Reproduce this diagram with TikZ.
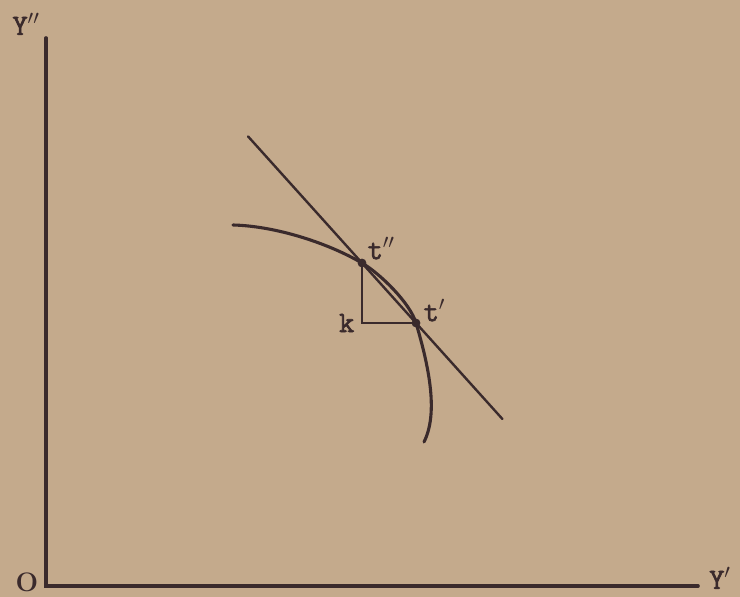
\documentclass[tikz,border=0pt]{standalone}
\usepackage{fontspec}
\setmonofont[AutoFakeBold=2.2]{Latin Modern Mono}
\usetikzlibrary{calc, positioning}
\definecolor{paperbg}{HTML}{C4AA8C}
\definecolor{ink}{HTML}{3A2A2C}

\begin{document}
\begin{tikzpicture}[
    font=\ttfamily\bfseries\fontsize{21}{24}\selectfont,
    line cap=round,
    axis/.style={draw=ink, line width=2.6pt},
    secant/.style={draw=ink, line width=1.7pt},
    curve/.style={draw=ink, line width=2.2pt},
    leg/.style={draw=ink, line width=1.4pt},
    lbl/.style={text=ink, inner sep=1pt},
    pt/.style={circle, fill=ink, inner sep=0pt, minimum size=2.2mm}
]
\fill[paperbg] (-1.15,-0.275) rectangle (17.35,14.65);
\useasboundingbox (-1.15,-0.275) rectangle (17.35,14.65);

% Axes
\coordinate (O)    at (0,0);
\coordinate (ytop) at (0,13.7);
\coordinate (xend) at (16.3,0);
\draw[axis] (ytop) -- (O) -- (xend);

\node[lbl, font=\rmfamily\bfseries\fontsize{19}{22}\selectfont] (Olbl) at (-0.475,0.1) {O};
\node[lbl] (Ylbl) at (-0.5,14.05) {Y$^{\prime\prime}$};
\node[lbl] (Xlbl) at (16.85,0.2) {Y$^{\prime}$};

% The two points on the curve
\coordinate (t2) at (7.9,8.075);
\coordinate (t1) at (9.25,6.575);

% Curve through both points
\draw[curve] (4.675,9.025) .. controls (5.7,9.0) and (7.0,8.6) .. (t2)
    .. controls (8.35,7.81) and (9.1,7.08) .. (t1)
    .. controls (9.6,5.4) and (9.8,4.3) .. (9.45,3.6);

% Secant through t'' and t'
\draw[secant] ($(t2)!-2.11!(t1)$) -- ($(t2)!2.6!(t1)$);

% Right-angle legs
\coordinate (k) at (t2 |- t1);
\draw[leg] (t2) -- (k) -- (t1);

\node[pt] (p2) at (t2) {};
\node[pt] (p1) at (t1) {};

% Labels
\node[lbl, above right=0.5mm and 1mm of t2] (t2lbl) {t$^{\prime\prime}$};
\node[lbl, above right=0mm and 1.5mm of t1] (t1lbl) {t$^{\prime}$};
\node[lbl, left=1.5mm of k] (klbl) {k};

\end{tikzpicture}
\end{document}
